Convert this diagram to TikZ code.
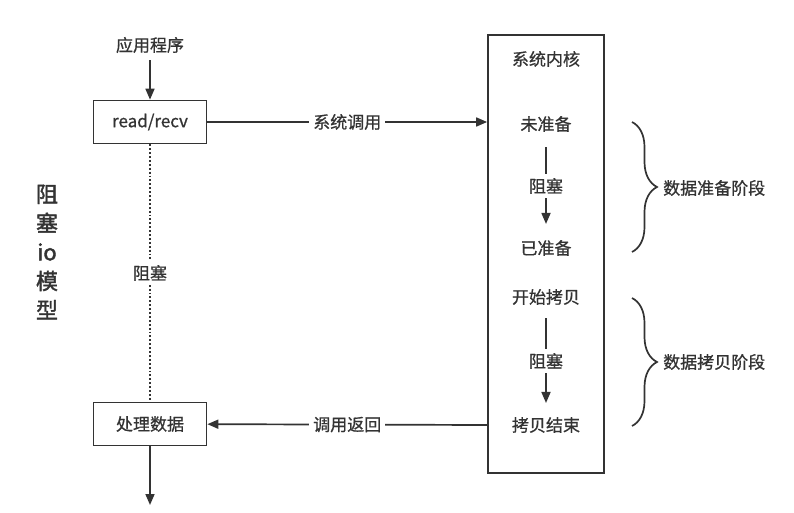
\documentclass[tikz,border=0pt]{standalone}
\usepackage{fontspec}
\setmainfont{Noto Sans CJK SC}[FakeBold=0.8, AutoFakeBold=0.8]
\newfontfamily\fontetitulo{Noto Sans CJK SC}[FakeBold=1.8, AutoFakeBold=1.8]
\usetikzlibrary{arrows.meta,decorations.pathreplacing}
\definecolor{cinza}{HTML}{333333}

\begin{document}
\begin{tikzpicture}[
        x=1pt, y=-1pt,
        >={Triangle[length=11pt,width=9pt]},
        bloco/.style={rectangle, draw=cinza, line width=1.7pt, minimum width=113pt, minimum height=43pt},
        rotulo/.style={fill=white, inner sep=4pt},
        seta/.style={draw=cinza, line width=1.7pt, ->},
        chave/.style={draw=cinza, line width=1.7pt, decorate, decoration={brace, amplitude=25pt}},
        every node/.style={font=\fontsize{17}{20}\selectfont\bfseries, text=cinza, inner sep=0pt}
    ]
    \useasboundingbox (0,0) rectangle (794,513);

        % ==================================================
        % APLICACAO
        % ==================================================

        \node (app) at (150,45) {应用程序};
        \node[bloco] (leitura) at (150,122) {read/recv};
        \node[bloco] (proc) at (150,424) {处理数据};
        \coordinate (fim) at (150,505);

        \node[font=\fontetitulo\fontsize{22}{29}\selectfont\bfseries, align=center] (titulo) at (47,252) {阻\\塞\\io\\模\\型};

        \draw[draw=cinza, line width=1.9pt, dotted] (leitura) -- node[rotulo] {阻塞} (proc);
        \draw[seta, shorten <=7pt] (app) -- (leitura);
        \draw[seta] (proc) -- (fim);

        % ==================================================
        % NUCLEO
        % ==================================================

        \node[bloco, minimum width=116pt, minimum height=438pt] (nucleo) at (546,254) {};
        \node (titnucleo) at (546,59) {系统内核};

        % Estados
        \node (nao) at (546,124) {未准备};
        \node (pronto) at (546,248) {已准备};
        \node (inicio) at (546,297) {开始拷贝};
        \node (fimcopia) at (546,425) {拷贝结束};

        \draw[seta, shorten <=15pt, shorten >=16pt] (nao) -- node[rotulo] {阻塞} (pronto);
        \draw[seta, shorten <=13pt, shorten >=14pt] (inicio) -- node[rotulo] {阻塞} (fimcopia);

        % Chamadas
        \draw[seta] (leitura) -- node[rotulo] {系统调用} (leitura -| nucleo.west);
        \draw[seta] (fimcopia -| nucleo.west) -- node[rotulo] {调用返回} (proc);

        % ==================================================
        % FASES
        % ==================================================

        \coordinate (c1) at (632,122);
        \coordinate (c2) at (632,252);
        \coordinate (c3) at (632,298);
        \coordinate (c4) at (632,426);

        \draw[chave] (c1) -- (c2);
        \draw[chave] (c3) -- (c4);

        \node[anchor=west] (fase1) at (663,188) {数据准备阶段};
        \node[anchor=west] (fase2) at (663,362) {数据拷贝阶段};

\end{tikzpicture}
\end{document}
